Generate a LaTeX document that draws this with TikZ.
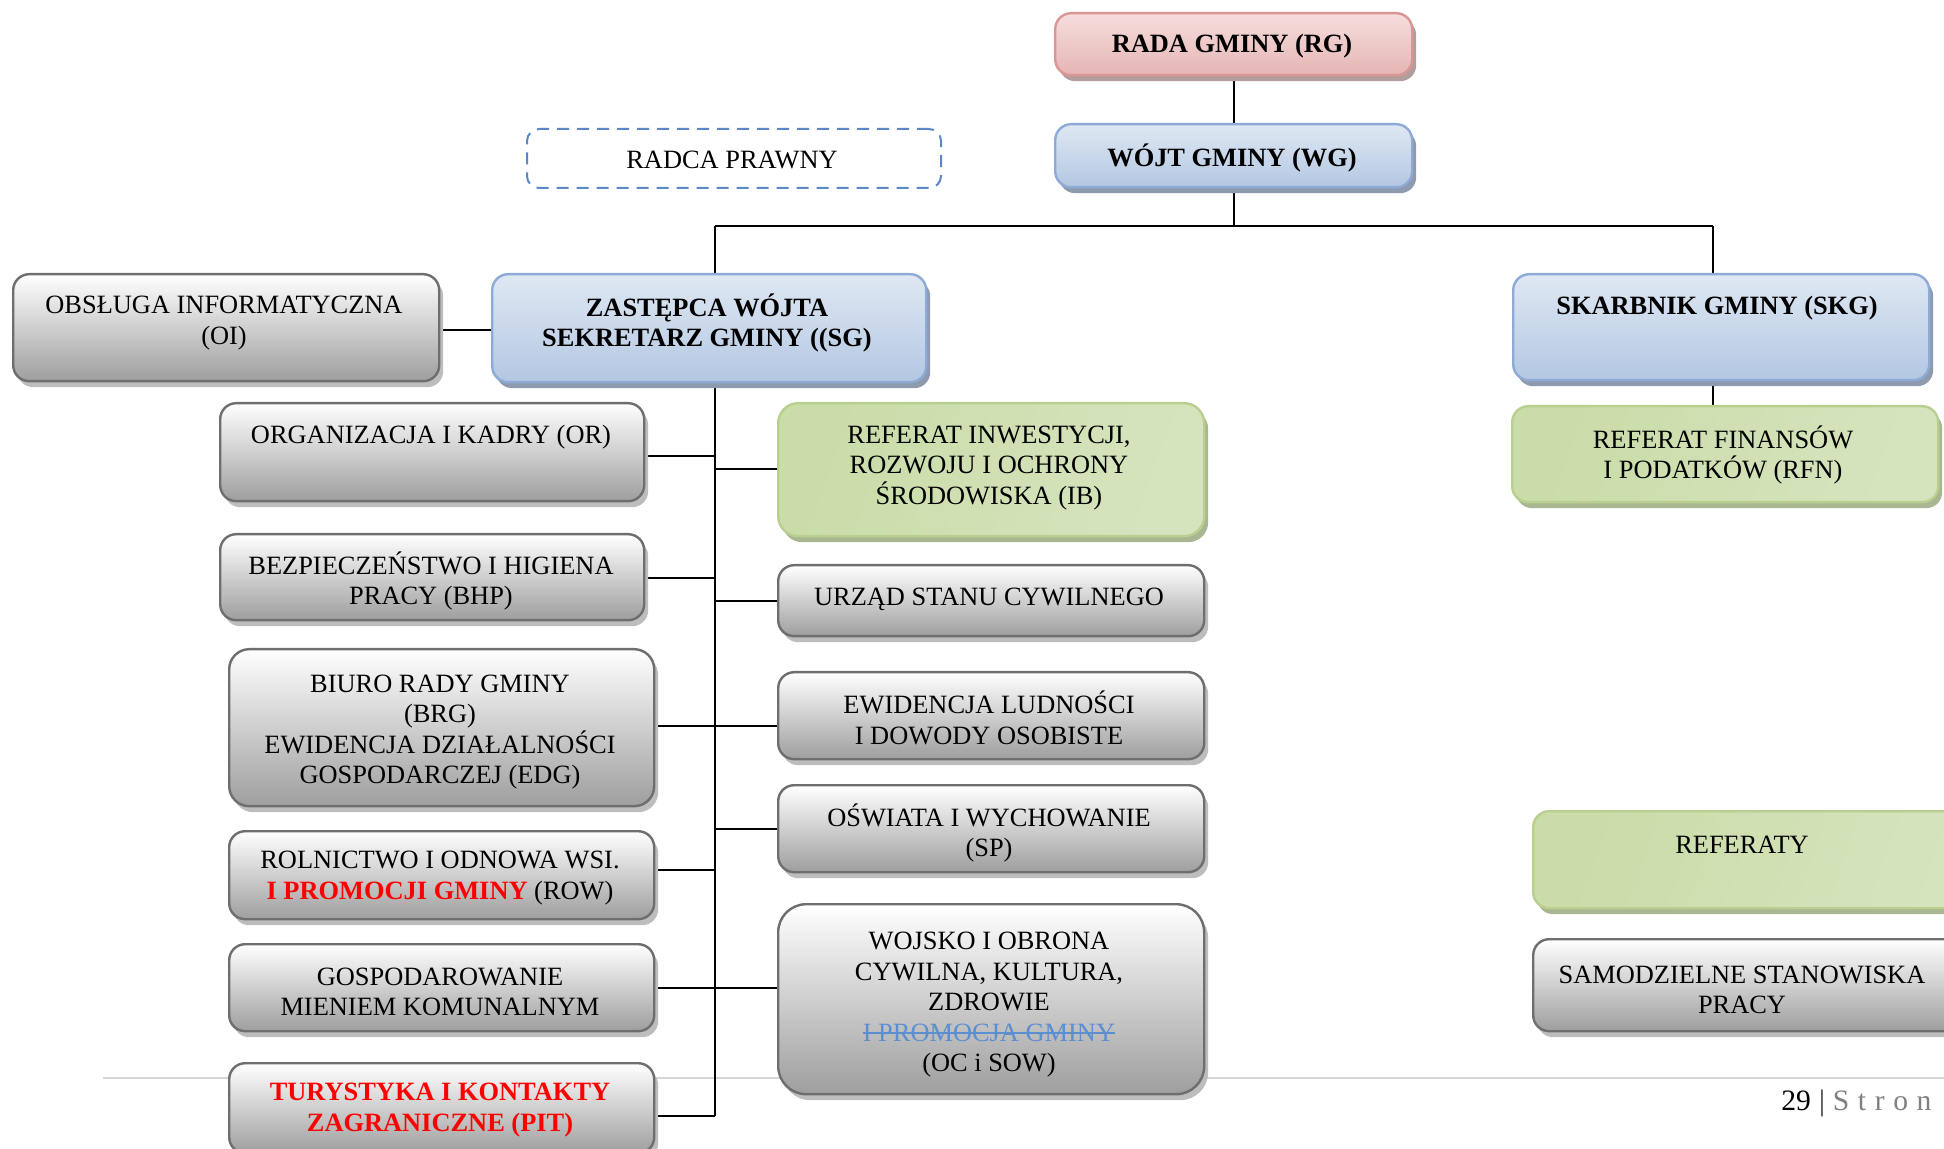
\documentclass[tikz,border=0pt]{standalone}
\usepackage{fontspec}
\setmainfont{Liberation Serif}
\usetikzlibrary{shadows}
\newcommand\mystrike[1]{\begingroup\setbox0=\hbox{#1}\rlap{\rule[0.3em]{\wd0}{0.8pt}}\box0\endgroup}
\definecolor{grayborder}{HTML}{6E6E6E}
\definecolor{graybot}{HTML}{9E9E9E}
\definecolor{grayshadow}{HTML}{BDBDBD}
\definecolor{bluetop}{HTML}{DFE8F3}
\definecolor{bluebot}{HTML}{B3C7E2}
\definecolor{blueborder}{HTML}{8EAAD6}
\definecolor{blueshadow}{HTML}{8E9AAE}
\definecolor{redtop}{HTML}{F5DEDD}
\definecolor{redbot}{HTML}{E5B5B4}
\definecolor{redborder}{HTML}{D99694}
\definecolor{redshadow}{HTML}{B39C9C}
\definecolor{greenA}{HTML}{CADCA8}
\definecolor{greenL}{HTML}{EEF3E4}
\definecolor{greenB}{HTML}{D6E4BE}
\definecolor{greenborder}{HTML}{B9CF8F}
\definecolor{greenshadow}{HTML}{A8B792}
\definecolor{dashblue}{HTML}{5B87C6}
\definecolor{strikeblue}{HTML}{5B8FD0}
\definecolor{footgray}{HTML}{808080}
\definecolor{footline}{HTML}{D6D6D6}
\definecolor{pred}{HTML}{FF0000}
\pgfdeclarelayer{bg}
\pgfsetlayers{bg,main}
\tikzset{
  wh/.style 2 args={minimum width=#1*0.5pt, minimum height=#2*0.5pt},
  box/.style={draw, line width=1.2pt, rounded corners=8pt, inner sep=0pt, anchor=north west},
  graybox/.style={box, draw=grayborder, top color=white, bottom color=graybot,
    drop shadow={shadow xshift=2pt, shadow yshift=-3pt, fill=grayshadow, opacity=1}},
  bluebox/.style={box, draw=blueborder, top color=bluetop, bottom color=bluebot,
    drop shadow={shadow xshift=2pt, shadow yshift=-3pt, fill=blueshadow, opacity=1}},
  redbox/.style={box, draw=redborder, top color=redtop, bottom color=redbot,
    drop shadow={shadow xshift=2pt, shadow yshift=-3pt, fill=redshadow, opacity=1}},
  greenbox/.style={box, draw=greenborder, left color=greenA, middle color=greenL, right color=greenB, shading angle=70,
    drop shadow={shadow xshift=2pt, shadow yshift=-3pt, fill=greenshadow, opacity=1}},
  dashbox/.style={draw=dashblue, line width=1pt, dash pattern=on 6pt off 4pt, rounded corners=6pt, inner sep=0pt, anchor=north west},
  txt/.style={align=center, inner sep=0pt, yshift=-1.5pt, font=\fontsize{13.2}{15.25}\selectfont},
  btxt/.style={txt, font=\fontsize{13.2}{15.25}\selectfont\bfseries},
  conn/.style={draw=black, line width=1pt}
}
\begin{document}
\begin{tikzpicture}[x=0.5pt,y=-0.5pt]
\clip (0,0) rectangle (1944,1149);
\useasboundingbox (0,0) rectangle (1944,1149);

% top
\node[redbox, wh={357}{62}] (rg) at (1054,12) {};
\node[btxt] (t-rg) at (1232,43) {RADA GMINY (RG)};
\node[bluebox, wh={357}{63}] (wg) at (1054,123) {};
\node[btxt] (t-wg) at (1232,155) {WÓJT GMINY (WG)};
\node[dashbox, wh={414}{59}] (rp) at (526,128) {};
\node[txt] (t-rp) at (732,157) {RADCA PRAWNY};

% second level
\node[graybox, wh={426}{107}] (oi) at (12,273) {};
\node[txt] (t-oi) at (224,320) {OBSŁUGA INFORMATYCZNA\\(OI)};
\node[bluebox, wh={434}{108}] (sg) at (491,273) {};
\node[btxt] (t-sg) at (707,320) {ZASTĘPCA WÓJTA\\SEKRETARZ GMINY ((SG)};
\node[bluebox, wh={416}{106}] (skg) at (1512,273) {};
\node[btxt] (t-skg) at (1717,305) {SKARBNIK GMINY (SKG)};
\node[greenbox, wh={426}{96}] (rfn) at (1511,405) {};
\node[txt] (t-rfn) at (1723,452) {REFERAT FINANSÓW\\I PODATKÓW (RFN)};

% left column
\node[graybox, wh={424}{98}] (or) at (219,402) {};
\node[txt] (t-or) at (431,434) {ORGANIZACJA I KADRY (OR)};
\node[graybox, wh={424}{86}] (bhp) at (219,533) {};
\node[txt] (t-bhp) at (431,578) {BEZPIECZEŃSTWO I HIGIENA\\PRACY (BHP)};
\node[graybox, wh={425}{157}, rounded corners=10pt] (brg) at (228,648) {};
\node[txt] (t-brg) at (440,729) {BIURO RADY GMINY\\(BRG)\\EWIDENCJA DZIAŁALNOŚCI\\GOSPODARCZEJ (EDG)};
\node[graybox, wh={425}{88}] (row) at (228,830) {};
\node[txt] (t-row) at (440,875) {ROLNICTWO I ODNOWA WSI.\\{\bfseries\color{pred}I PROMOCJI GMINY} (ROW)};
\node[graybox, wh={425}{87}] (gmk) at (228,943) {};
\node[txt] (t-gmk) at (440,989) {GOSPODAROWANIE\\MIENIEM KOMUNALNYM};
\node[graybox, wh={425}{90}] (pit) at (228,1062) {};
\node[btxt, text=pred] (t-pit) at (440,1107) {TURYSTYKA I KONTAKTY\\ZAGRANICZNE (PIT)};

% middle column
\node[greenbox, wh={426}{133}, rounded corners=10pt] (ib) at (777,402) {};
\node[txt] (t-ib) at (989,465) {REFERAT INWESTYCJI,\\ROZWOJU I OCHRONY\\ŚRODOWISKA (IB)};
\node[graybox, wh={426}{71}] (usc) at (777,564) {};
\node[txt] (t-usc) at (989,596) {URZĄD STANU CYWILNEGO};
\node[graybox, wh={426}{87}] (eld) at (777,671) {};
\node[txt] (t-eld) at (989,715) {EWIDENCJA LUDNOŚCI\\I DOWODY OSOBISTE};
\node[graybox, wh={426}{87}] (sp) at (777,784) {};
\node[txt] (t-sp) at (989,830) {OŚWIATA I WYCHOWANIE\\(SP)};
\node[graybox, wh={426}{190}, rounded corners=14pt] (oc) at (777,903) {};
\node[txt] (t-oc) at (989,1002) {WOJSKO I OBRONA\\CYWILNA, KULTURA,\\ZDROWIE\\{\color{strikeblue}\mystrike{I PROMOCJA GMINY}}\\(OC i SOW)};

% right bottom
\node[greenbox, wh={460}{97}] (ref) at (1532,810) {};
\node[txt] (t-ref) at (1742,842) {REFERATY};
\node[graybox, wh={460}{92}] (sam) at (1532,938) {};
\node[txt] (t-sam) at (1742,987) {SAMODZIELNE STANOWISKA\\PRACY};

% footer text
\node[anchor=base west, inner sep=0pt, font=\fontsize{14.8}{16}\selectfont] (pg) at (1781,1110)
  {29\hspace{4pt}{\color{black!80}|}\hspace{4pt}{\color{footgray}S\hspace{4.3pt}t\hspace{4.3pt}r\hspace{4.3pt}o\hspace{4.3pt}n}};

% connectors
\coordinate (bl) at (715,226);
\coordinate (br) at (1713,226);
\coordinate (joi) at (465,330);
\coordinate (spend) at (715,1116);
\coordinate (jor) at (715,456);
\coordinate (jbhp) at (715,578);
\coordinate (jbrg) at (715,726);
\coordinate (jrow) at (715,870);
\coordinate (jgmk) at (715,988);
\coordinate (jib) at (715,469);
\coordinate (jusc) at (715,601);
\coordinate (jsp) at (715,829);
\begin{pgfonlayer}{bg}
\draw[footline, line width=1pt] (103,1078) -- (1944,1078);
\draw[conn] (rg.south) -- (wg.north);
\draw[conn] (wg.south) -- (wg.south |- bl);
\draw[conn] (bl) -- (br);
\draw[conn] (bl) -- (bl |- sg.north);
\draw[conn] (br) -- (br |- skg.north);
\draw[conn] (br |- skg.south) -- (br |- rfn.north);
\draw[conn] (oi.east |- joi) -- (sg.west |- joi);
\draw[conn] (bl |- sg.south) -- (spend);
\draw[conn] (or.east |- jor) -- (jor);
\draw[conn] (bhp.east |- jbhp) -- (jbhp);
\draw[conn] (brg.east |- jbrg) -- (eld.west |- jbrg);
\draw[conn] (row.east |- jrow) -- (jrow);
\draw[conn] (gmk.east |- jgmk) -- (oc.west |- jgmk);
\draw[conn] (pit.east |- spend) -- (spend);
\draw[conn] (jib) -- (ib.west |- jib);
\draw[conn] (jusc) -- (usc.west |- jusc);
\draw[conn] (jsp) -- (sp.west |- jsp);
\end{pgfonlayer}
\end{tikzpicture}
\end{document}
